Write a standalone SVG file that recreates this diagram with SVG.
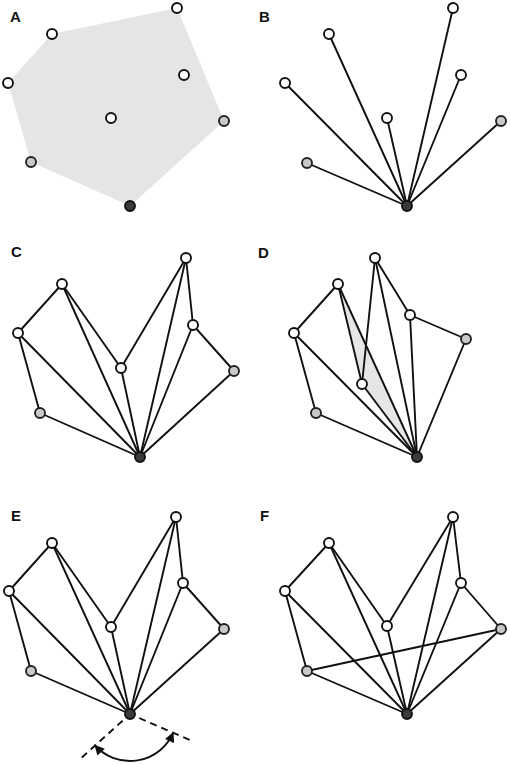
<svg xmlns="http://www.w3.org/2000/svg" width="510" height="765" viewBox="0 0 510 765">
<style>
.lbl{font-family:"Liberation Sans",Arial,sans-serif;font-weight:bold;font-size:15px;fill:#111}
.e{stroke:#111;stroke-width:1.9;fill:none;stroke-linecap:round}
.dash{stroke:#111;stroke-width:1.9;fill:none;stroke-dasharray:7 5}
.w{fill:#fff;stroke:#111;stroke-width:1.9}
.g{fill:#c8c9cb;stroke:#222;stroke-width:1.9}
.d{fill:#3b3b3b;stroke:#111;stroke-width:1.9}
.hull{fill:#e5e5e7;stroke:none}
</style>
<defs>
<marker id="ah" viewBox="0 0 10 10" refX="9" refY="5" markerWidth="11" markerHeight="10" markerUnits="userSpaceOnUse" orient="auto-start-reverse">
<path d="M0,0 L10,5 L0,10 z" fill="#111"/>
</marker>
</defs>
<rect width="510" height="765" fill="#fff"/>

<text class="lbl" x="10" y="22">A</text>
<text class="lbl" x="259" y="22">B</text>
<text class="lbl" x="11" y="257">C</text>
<text class="lbl" x="258" y="258">D</text>
<text class="lbl" x="11" y="521">E</text>
<text class="lbl" x="260" y="521">F</text>

<polygon id="hullA" class="hull" points="177,8 224,121 130,206 31,162 8,83 52,34"/>
<polygon id="shadeD" fill="#e6e6e8" points="338,284 362,384 417,457"/>

<g id="connectors">
<g id="edgesB">
<line class="e" x1="407" y1="206" x2="453" y2="8"/>
<line class="e" x1="407" y1="206" x2="329" y2="34"/>
<line class="e" x1="407" y1="206" x2="285" y2="83"/>
<line class="e" x1="407" y1="206" x2="461" y2="75"/>
<line class="e" x1="407" y1="206" x2="387" y2="118"/>
<line class="e" x1="407" y1="206" x2="501" y2="121"/>
<line class="e" x1="407" y1="206" x2="307" y2="163"/>
</g>
<g id="edgesC">
<line class="e" x1="62" y1="284" x2="18" y2="333"/>
<line class="e" x1="62" y1="284" x2="121" y2="368"/>
<line class="e" x1="62" y1="284" x2="140" y2="457"/>
<line class="e" x1="18" y1="333" x2="40" y2="413"/>
<line class="e" x1="18" y1="333" x2="140" y2="457"/>
<line class="e" x1="40" y1="413" x2="140" y2="457"/>
<line class="e" x1="121" y1="368" x2="140" y2="457"/>
<line class="e" x1="121" y1="368" x2="186" y2="258"/>
<line class="e" x1="186" y1="258" x2="140" y2="457"/>
<line class="e" x1="186" y1="258" x2="193" y2="325"/>
<line class="e" x1="193" y1="325" x2="140" y2="457"/>
<line class="e" x1="193" y1="325" x2="234" y2="371"/>
<line class="e" x1="234" y1="371" x2="140" y2="457"/>
</g>
<g id="edgesD">
<line class="e" x1="338" y1="284" x2="294" y2="333"/>
<line class="e" x1="338" y1="284" x2="362" y2="384"/>
<line class="e" x1="338" y1="284" x2="417" y2="457"/>
<line class="e" x1="294" y1="333" x2="316" y2="413"/>
<line class="e" x1="294" y1="333" x2="417" y2="457"/>
<line class="e" x1="316" y1="413" x2="417" y2="457"/>
<line class="e" x1="362" y1="384" x2="417" y2="457"/>
<line class="e" x1="362" y1="384" x2="375" y2="258"/>
<line class="e" x1="375" y1="258" x2="417" y2="457"/>
<line class="e" x1="375" y1="258" x2="410" y2="315"/>
<line class="e" x1="410" y1="315" x2="417" y2="457"/>
<line class="e" x1="410" y1="315" x2="466" y2="339"/>
<line class="e" x1="466" y1="339" x2="417" y2="457"/>
</g>
<g id="edgesE">
<line class="e" x1="52" y1="543" x2="9" y2="591"/>
<line class="e" x1="52" y1="543" x2="111" y2="627"/>
<line class="e" x1="52" y1="543" x2="130" y2="714"/>
<line class="e" x1="9" y1="591" x2="31" y2="671"/>
<line class="e" x1="9" y1="591" x2="130" y2="714"/>
<line class="e" x1="31" y1="671" x2="130" y2="714"/>
<line class="e" x1="111" y1="627" x2="130" y2="714"/>
<line class="e" x1="111" y1="627" x2="176" y2="517"/>
<line class="e" x1="176" y1="517" x2="130" y2="714"/>
<line class="e" x1="176" y1="517" x2="183" y2="583"/>
<line class="e" x1="183" y1="583" x2="130" y2="714"/>
<line class="e" x1="183" y1="583" x2="224" y2="629"/>
<line class="e" x1="224" y1="629" x2="130" y2="714"/>
<line class="dash" x1="122.6" y1="720.7" x2="80.3" y2="758.9"/>
<line class="dash" x1="139.2" y1="718" x2="192.4" y2="741.1"/>
<path class="e" d="M95.1,745.5 A47,47 0 0 0 173.1,732.8" marker-start="url(#ah)" marker-end="url(#ah)"/>
</g>
<g id="edgesF">
<line class="e" x1="329" y1="543" x2="285" y2="591"/>
<line class="e" x1="329" y1="543" x2="387" y2="626"/>
<line class="e" x1="329" y1="543" x2="407" y2="714"/>
<line class="e" x1="285" y1="591" x2="307" y2="671"/>
<line class="e" x1="285" y1="591" x2="407" y2="714"/>
<line class="e" x1="307" y1="671" x2="407" y2="714"/>
<line class="e" x1="387" y1="626" x2="407" y2="714"/>
<line class="e" x1="387" y1="626" x2="453" y2="517"/>
<line class="e" x1="453" y1="517" x2="407" y2="714"/>
<line class="e" x1="453" y1="517" x2="461" y2="583"/>
<line class="e" x1="461" y1="583" x2="407" y2="714"/>
<line class="e" x1="461" y1="583" x2="501" y2="629"/>
<line class="e" x1="501" y1="629" x2="407" y2="714"/>
<line class="e" x1="307" y1="671" x2="501" y2="629"/>
</g>
</g>

<g id="A1"><circle class="w" cx="177" cy="8" r="5"/></g>
<g id="A2"><circle class="w" cx="52" cy="34" r="5"/></g>
<g id="A3"><circle class="w" cx="8" cy="83" r="5"/></g>
<g id="A4"><circle class="w" cx="184" cy="75" r="5"/></g>
<g id="A5"><circle class="w" cx="111" cy="118" r="5"/></g>
<g id="A6"><circle class="g" cx="224" cy="121" r="5"/></g>
<g id="A7"><circle class="g" cx="31" cy="162" r="5"/></g>
<g id="A8"><circle class="d" cx="130" cy="206" r="5"/></g>
<g id="B1"><circle class="w" cx="453" cy="8" r="5"/></g>
<g id="B2"><circle class="w" cx="329" cy="34" r="5"/></g>
<g id="B3"><circle class="w" cx="285" cy="83" r="5"/></g>
<g id="B4"><circle class="w" cx="461" cy="75" r="5"/></g>
<g id="B5"><circle class="w" cx="387" cy="118" r="5"/></g>
<g id="B6"><circle class="g" cx="501" cy="121" r="5"/></g>
<g id="B7"><circle class="g" cx="307" cy="163" r="5"/></g>
<g id="B8"><circle class="d" cx="407" cy="206" r="5"/></g>
<g id="C1"><circle class="w" cx="186" cy="258" r="5"/></g>
<g id="C2"><circle class="w" cx="62" cy="284" r="5"/></g>
<g id="C3"><circle class="w" cx="18" cy="333" r="5"/></g>
<g id="C4"><circle class="w" cx="193" cy="325" r="5"/></g>
<g id="C5"><circle class="w" cx="121" cy="368" r="5"/></g>
<g id="C6"><circle class="g" cx="234" cy="371" r="5"/></g>
<g id="C7"><circle class="g" cx="40" cy="413" r="5"/></g>
<g id="C8"><circle class="d" cx="140" cy="457" r="5"/></g>
<g id="D1"><circle class="w" cx="375" cy="258" r="5"/></g>
<g id="D2"><circle class="w" cx="338" cy="284" r="5"/></g>
<g id="D3"><circle class="w" cx="294" cy="333" r="5"/></g>
<g id="D4"><circle class="w" cx="410" cy="315" r="5"/></g>
<g id="D5"><circle class="w" cx="362" cy="384" r="5"/></g>
<g id="D6"><circle class="g" cx="466" cy="339" r="5"/></g>
<g id="D7"><circle class="g" cx="316" cy="413" r="5"/></g>
<g id="D8"><circle class="d" cx="417" cy="457" r="5"/></g>
<g id="E1"><circle class="w" cx="176" cy="517" r="5"/></g>
<g id="E2"><circle class="w" cx="52" cy="543" r="5"/></g>
<g id="E3"><circle class="w" cx="9" cy="591" r="5"/></g>
<g id="E4"><circle class="w" cx="183" cy="583" r="5"/></g>
<g id="E5"><circle class="w" cx="111" cy="627" r="5"/></g>
<g id="E6"><circle class="g" cx="224" cy="629" r="5"/></g>
<g id="E7"><circle class="g" cx="31" cy="671" r="5"/></g>
<g id="E8"><circle class="d" cx="130" cy="714" r="5"/></g>
<g id="F1"><circle class="w" cx="453" cy="517" r="5"/></g>
<g id="F2"><circle class="w" cx="329" cy="543" r="5"/></g>
<g id="F3"><circle class="w" cx="285" cy="591" r="5"/></g>
<g id="F4"><circle class="w" cx="461" cy="583" r="5"/></g>
<g id="F5"><circle class="w" cx="387" cy="626" r="5"/></g>
<g id="F6"><circle class="g" cx="501" cy="629" r="5"/></g>
<g id="F7"><circle class="g" cx="307" cy="671" r="5"/></g>
<g id="F8"><circle class="d" cx="407" cy="714" r="5"/></g>
</svg>
